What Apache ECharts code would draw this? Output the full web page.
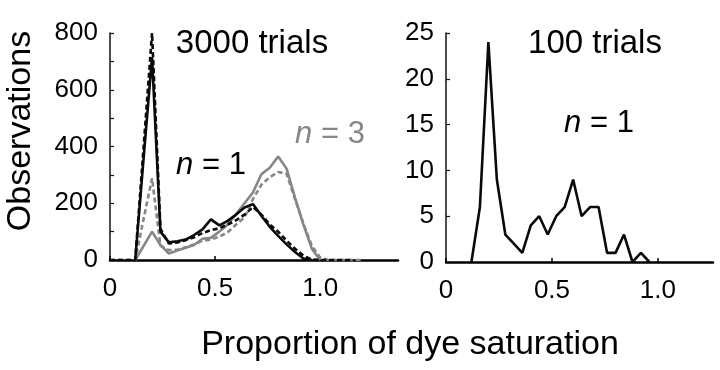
<!DOCTYPE html>
<html>
<head>
<meta charset="utf-8">
<script src="https://cdn.jsdelivr.net/npm/echarts@6/dist/echarts.min.js"></script>
<style>
html,body{margin:0;padding:0;background:#fff;}
#chart{width:720px;height:370px;}
</style>
</head>
<body>
<div id="chart"></div>
<script>
// Bin centres (proportion of dye saturation)
const binsLeft = [0,0.04,0.08,0.12,0.16,0.2,0.24,0.28,0.32,0.36,0.4,0.44,0.48,0.52,0.56,0.6,0.64,0.68,0.72,0.76,0.8,0.84,0.88,0.92,0.96,1.0,1.04,1.08,1.12,1.16,1.2];
// 3000 trials, n = 1 (black solid / black dashed)
const n1Solid3000  = [null,null,null,0,360,715,100,62,66,72,88,108,143,122,138,160,185,197,156,117,85,55,28,5,0,null,null,null,null,null,null];
const n1Dashed3000 = [0,0,0,0,400,800,110,58,62,70,80,95,105,112,125,140,160,187,160,125,100,68,40,15,2,0,0,0,0,0,null];
// 3000 trials, n = 3 (grey solid / grey dashed)
const n3Solid3000  = [null,null,null,0,50,100,53,23,33,43,53,75,78,100,125,162,200,238,302,325,365,322,220,125,40,0,null,null,null,null,null];
const n3Dashed3000 = [0,0,0,0,145,288,50,35,36,45,55,68,72,82,98,125,150,215,265,292,310,304,215,128,50,8,0,0,0,0,0];
// 100 trials, n = 1
const binsRight = [0.12,0.16,0.2,0.24,0.28,0.32,0.36,0.4,0.44,0.48,0.52,0.56,0.6,0.64,0.68,0.72,0.76,0.8,0.84,0.88,0.92,0.96];
const n1Trials100 = [0,6,24,9,3,2,1,4,5,3,5,6,9,5,6,6,1,1,3,0,1,0];

const xTicks = [0,0.5,1.0];
const yTicksLeft = [0,200,400,600,800];
const yTicksRight = [0,5,10,15,20,25];

function pairs(xs, ys){ return xs.map((x,i)=>[x, ys[i]]); }

const FONT = 'Liberation Sans, Arial, sans-serif';
const BLACK = '#0a0a0a';
const GREY = '#868686';

function xAxisCfg(gi, max){
  return {
    gridIndex: gi, type:'value', min: xTicks[0], max: max, interval: 0.5,
    axisLine:{show:true, onZero:true, lineStyle:{color:'#000', width:2.5}},
    axisTick:{show:true, inside:true, length:4, lineStyle:{color:'#000', width:1.5}},
    splitLine:{show:false},
    axisLabel:{show:true, fontSize:26, color:'#000', fontFamily:FONT, margin:16,
      showMaxLabel:false,
      formatter: v => (xTicks.indexOf(v) < 0 ? '' : (v === 0 ? '0' : v.toFixed(1)))}
  };
}
function yAxisCfg(gi, max, interval, minor){
  return {
    gridIndex: gi, type:'value', min:0, max:max, interval:interval,
    axisLine:{show:true, lineStyle:{color:'#111', width:1.5}},
    axisTick:{show:true, inside:true, length:4, lineStyle:{color:'#111', width:1.2}},
    minorTick: minor ? {show:true, splitNumber:2, length:4, lineStyle:{color:'#111', width:1.2}} : {show:false},
    splitLine:{show:false},
    axisLabel:{fontSize:26, color:'#000', fontFamily:FONT, margin:12}
  };
}
function lineSeries(name, xi, xs, ys, color, dashed){
  return {
    name, type:'line', xAxisIndex:xi, yAxisIndex:xi,
    data: pairs(xs, ys), showSymbol:false, symbol:'none', connectNulls:false,
    lineStyle:{color, width:2.6, type: dashed ? [5,3] : 'solid'},
    z: color === BLACK ? 4 : 3, silent:true
  };
}

const chart = echarts.init(document.getElementById('chart'), null, {renderer:'canvas'});
chart.setOption({
  animation:false,
  backgroundColor:'#fff',
  grid:[
    {left:110, top:33, width:288, height:227},
    {left:446, top:33, width:267, height:229}
  ],
  xAxis:[ xAxisCfg(0, 1.37), xAxisCfg(1, 1.26) ],
  yAxis:[ yAxisCfg(0, yTicksLeft[yTicksLeft.length-1], 200, true),
          yAxisCfg(1, yTicksRight[yTicksRight.length-1], 5, false) ],
  series:[
    lineSeries('n=3 dashed', 0, binsLeft, n3Dashed3000, GREY, true),
    lineSeries('n=3 solid', 0, binsLeft, n3Solid3000, GREY, false),
    lineSeries('n=1 dashed', 0, binsLeft, n1Dashed3000, BLACK, true),
    lineSeries('n=1 solid', 0, binsLeft, n1Solid3000, BLACK, false),
    lineSeries('100 trials', 1, binsRight, n1Trials100, BLACK, false)
  ],
  graphic:[
    {type:'text', x:21, y:131, rotation:Math.PI/2,
      style:{text:'Observations', font:'34px '+FONT, fill:'#000', textAlign:'center', textVerticalAlign:'middle'}},
    {type:'text', x:410, y:345,
      style:{text:'Proportion of dye saturation', font:'34px '+FONT, fill:'#000', textAlign:'center', textVerticalAlign:'middle'}},
    {type:'text', x:252, y:44,
      style:{text:'3000 trials', font:'33px '+FONT, fill:'#000', textAlign:'center', textVerticalAlign:'middle'}},
    {type:'text', x:595, y:44,
      style:{text:'100 trials', font:'33px '+FONT, fill:'#000', textAlign:'center', textVerticalAlign:'middle'}},
    {type:'text', x:211, y:165,
      style:{text:'{i|n} = 1', fontSize:31, fontFamily:FONT, fill:'#000', textAlign:'center', textVerticalAlign:'middle',
        rich:{i:{fontStyle:'italic', fontSize:31, fontFamily:FONT, fill:'#000'}}}},
    {type:'text', x:330, y:134,
      style:{text:'{i|n} = 3', fontSize:31, fontFamily:FONT, fill:GREY, textAlign:'center', textVerticalAlign:'middle',
        rich:{i:{fontStyle:'italic', fontSize:31, fontFamily:FONT, fill:GREY}}}},
    {type:'text', x:599, y:123,
      style:{text:'{i|n} = 1', fontSize:31, fontFamily:FONT, fill:'#000', textAlign:'center', textVerticalAlign:'middle',
        rich:{i:{fontStyle:'italic', fontSize:31, fontFamily:FONT, fill:'#000'}}}}
  ]
});
</script>
</body>
</html>
